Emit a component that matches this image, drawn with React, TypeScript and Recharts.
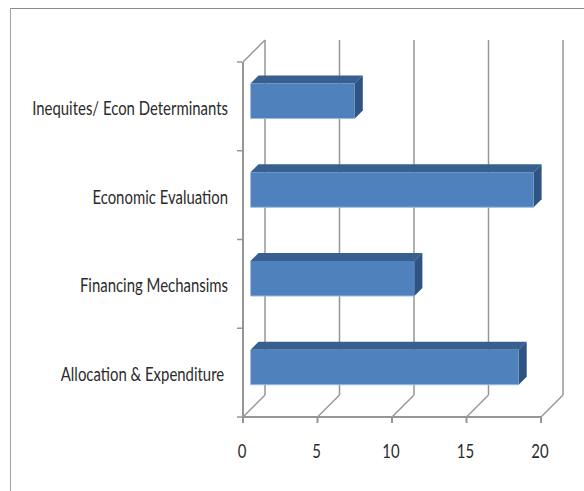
import React from 'react';
import { BarChart, Bar, XAxis, YAxis, ReferenceLine } from 'recharts';

const categories = [
    'Inequites/ Econ Determinants',
    'Economic Evaluation',
    'Financing Mechansims',
    'Allocation & Expenditure ',
];
const values = [7, 19, 11, 18];
const xTicks = [0, 5, 10, 15, 20];

const data = categories.map((name, i) => ({ name, value: values[i] }));

const AXIS = '#969696';
const TEXT = '#2b2b2b';
const FONT = 'Lato, "Liberation Sans", sans-serif';

// depth of the back wall and of the bars
const WALL = 22;
const DEPTH = 8;
// the labels in the picture are squeezed sideways
const SQUEEZE = 0.785;

const Bar3D = (props: any) => {
    const { width, height } = props;
    const x = props.x + 7.5;
    const y = props.y - 5.5;
    return (
        <g>
            <polygon
                points={`${x},${y} ${x + DEPTH},${y - DEPTH} ${x + width + DEPTH},${y - DEPTH} ${x + width},${y}`}
                fill="#375F8F"
            />
            <polygon
                points={`${x + width},${y} ${x + width + DEPTH},${y - DEPTH} ${x + width + DEPTH},${y + height - DEPTH} ${x + width},${y + height}`}
                fill="#2F5382"
            />
            <rect x={x} y={y} width={width} height={height} fill="#4F81BD" />
            <line x1={x} y1={y + height} x2={x + width} y2={y + height} stroke="#9DBBDD" strokeWidth={1} />
        </g>
    );
};

const WallLine = (props: any) => {
    const { x1, y1, x2, y2, first } = props;
    const top = Math.min(y1, y2);
    const bottom = Math.max(y1, y2);
    return (
        <g fill="none" stroke={AXIS} strokeWidth={1.5}>
            <line x1={x1 + WALL} y1={top - WALL} x2={x2 + WALL} y2={bottom - WALL} />
            <line x1={x1} y1={bottom} x2={x1 + WALL} y2={bottom - WALL} />
            {first && <line x1={x1} y1={top} x2={x1 + WALL} y2={top - WALL} />}
        </g>
    );
};

const CategoryTick = (props: any) => {
    const { x, y, payload, index } = props;
    const half = 44.4;
    return (
        <g>
            <line x1={x + 9} y1={y - half} x2={x + 14} y2={y - half} stroke={AXIS} strokeWidth={1.5} />
            {index === categories.length - 1 && (
                <line x1={x + 9} y1={y + half} x2={x + 14} y2={y + half} stroke={AXIS} strokeWidth={1.5} />
            )}
            <text
                transform={`translate(${x},${y + 8.5}) scale(${SQUEEZE},1)`}
                textAnchor="end"
                fontFamily={FONT}
                fontSize={19}
                fill={TEXT}
                xmlSpace="preserve"
            >
                {payload.value}
            </text>
        </g>
    );
};

const ValueTick = (props: any) => {
    const { x, y, payload } = props;
    return (
        <text
            transform={`translate(${x - 1},${y + 16}) scale(${SQUEEZE},1)`}
            textAnchor="middle"
            fontFamily={FONT}
            fontSize={19}
            fill={TEXT}
        >
            {payload.value}
        </text>
    );
};

export default function App() {
    return (
        <div style={{ position: 'absolute', left: 0, top: 0, width: 584, height: 491, background: '#fff', overflow: 'hidden' }}>
            <div
                style={{
                    position: 'absolute',
                    left: 10,
                    top: 8,
                    width: 574,
                    height: 483,
                    borderTop: '1.5px solid #8c8c8c',
                    borderLeft: '1.5px solid #a0a0a0',
                }}
            />
            <div style={{ position: 'absolute', left: 0, top: 0 }}>
                <BarChart
                    width={584}
                    height={491}
                    data={data}
                    layout="vertical"
                    barSize={35}
                    margin={{ top: 62, right: 43, bottom: 0, left: 0 }}
                >
                    {xTicks.map(t => (
                        <ReferenceLine key={t} x={t} zIndex={100} shape={<WallLine first={t === xTicks[0]} />} />
                    ))}
                    <XAxis
                        type="number"
                        domain={[0, 20]}
                        ticks={xTicks}
                        height={74}
                        stroke={AXIS}
                        strokeWidth={2}
                        tickSize={6}
                        tickMargin={19}
                        tick={<ValueTick />}
                    />
                    <YAxis
                        type="category"
                        dataKey="name"
                        width={243}
                        stroke={AXIS}
                        strokeWidth={2}
                        tickLine={false}
                        tickSize={0}
                        tickMargin={15}
                        interval={0}
                        tick={<CategoryTick />}
                    />
                    <Bar dataKey="value" shape={<Bar3D />} isAnimationActive={false} />
                </BarChart>
            </div>
        </div>
    );
}
